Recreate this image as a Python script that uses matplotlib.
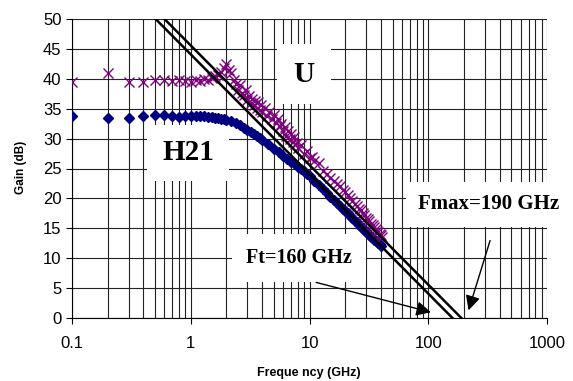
import numpy as np
import matplotlib
matplotlib.use("Agg")
import matplotlib.pyplot as plt

freq_h21 = [0.1, 0.2, 0.3, 0.4, 0.5, 0.6, 0.7, 0.8, 0.9, 1.0,
            1.1, 1.2, 1.3, 1.4, 1.5, 1.6, 1.7, 1.8, 1.9, 2.0,
            2.2, 2.4, 2.6, 2.8, 3.0, 3.2, 3.4, 3.6, 3.8, 4.0,
            4.5, 5.0, 5.5, 6.0, 6.5, 7.0, 7.5, 8.0, 8.5, 9.0, 9.5, 10,
            11, 12, 13, 14, 15, 16, 17, 18, 19, 20, 21, 22, 23, 24, 25,
            26, 27, 28, 29, 30, 31, 32, 33, 34, 35, 36, 37, 38, 39, 40]
gain_h21 = [33.7, 33.4, 33.4, 33.7, 33.9, 33.9, 33.8, 33.6, 33.7, 33.7,
            33.8, 33.7, 33.7, 33.6, 33.6, 33.5, 33.4, 33.3, 33.2, 33.1,
            32.9, 32.6, 32.2, 31.8, 31.4, 31.1, 30.8, 30.5, 30.1, 29.8,
            29.1, 28.3, 27.7, 27.1, 26.6, 26.1, 25.7, 25.3, 24.9, 24.5, 24.1, 23.7,
            22.9, 22.2, 21.5, 20.9, 20.3, 19.8, 19.3, 18.8, 18.3, 17.9, 17.5, 17.1, 16.7, 16.3, 16.0,
            15.6, 15.3, 15.0, 14.7, 14.4, 14.2, 13.9, 13.6, 13.4, 13.1, 12.9, 12.7, 12.5, 12.3, 12.1]

freq_u = [0.1, 0.2, 0.3, 0.4, 0.5, 0.6, 0.7, 0.8, 0.9, 1.0,
          1.1, 1.2, 1.3, 1.4, 1.5, 1.6, 1.7, 1.8, 1.9,
          2.0, 2.1, 2.2, 2.3, 2.4, 2.5, 2.6, 2.7, 2.8, 2.9,
          3.0, 3.1, 3.2, 3.3, 3.4, 3.5, 3.6, 3.7, 3.8, 3.9,
          4.0, 4.2, 4.4, 4.6, 4.8, 5.0, 5.2, 5.4, 5.6, 5.8,
          6.0, 6.2, 6.4, 6.6, 6.8, 7.0, 7.2, 7.4, 7.6, 7.8,
          8.0, 8.5, 9.0, 9.5, 10, 10.5, 11, 12, 13, 14, 15,
          16, 17, 18, 19, 20, 21, 22, 23, 24, 25, 26, 27, 28,
          29, 30, 31, 32, 33, 34, 35, 36, 37, 38, 39, 40, 41]
gain_u = [39.4, 41.0, 39.4, 39.4, 39.8, 39.8, 39.7, 39.8, 39.6, 39.5,
          39.8, 39.6, 40.0, 39.8, 40.1, 40.4, 40.6, 41.2, 41.8,
          42.4, 41.5, 40.9, 39.8, 39.2, 38.2, 38.9, 37.6, 37.3, 38.1,
          36.4, 37.1, 36.0, 36.7, 35.6, 36.3, 35.2, 36.1, 34.8, 35.7,
          34.4, 35.1, 33.8, 34.5, 33.2, 34.0, 32.6, 33.3, 32.1, 32.4,
          31.3, 32.0, 30.5, 31.2, 30.0, 30.7, 29.4, 30.2, 29.1, 29.3,
          28.4, 29.0, 27.4, 27.9, 26.8, 26.9, 26.2, 25.9, 24.5, 24.1, 23.4,
          22.9, 22.4, 22.0, 21.4, 21.0, 20.6, 20.0, 19.6, 19.1, 18.7, 18.3, 18.0, 17.5,
          17.2, 16.8, 16.5, 16.2, 15.8, 15.5, 15.3, 14.9, 14.6, 14.3, 14.0, 13.8, 13.5]

FT = 160
FMAX = 190

plt.rcParams['font.family'] = ['Liberation Sans', 'DejaVu Sans']

fig = plt.figure(figsize=(5.73, 3.81), dpi=100)
ax = fig.add_axes([72/573, 1-318/381, 475/573, 299/381])

ax.set_xscale('log')
ax.set_xlim(0.1, 1000)
ax.set_ylim(0, 50)
ax.set_yticks(np.arange(0, 51, 5))
ax.set_xticks([0.1, 1, 10, 100, 1000])
ax.set_xticklabels(['0.1', '1', '10', '100', '1000'])
ax.xaxis.set_minor_formatter(matplotlib.ticker.NullFormatter())
ax.tick_params(axis='both', which='major', labelsize=12, length=4, direction='out')
ax.tick_params(axis='x', which='major', pad=9)
ax.tick_params(axis='x', which='minor', length=0)
ax.grid(True, which='both', axis='x', color='#222222', lw=0.8)
ax.grid(True, which='major', axis='y', color='#222222', lw=0.8)
ax.set_axisbelow(True)
for s in ['top', 'right']:
    ax.spines[s].set_visible(False)

ax.plot(freq_h21, gain_h21, ls='none', marker='D', ms=5, color='#000080', zorder=5)
ax.plot(freq_u, gain_u, ls='none', marker='x', ms=6.5, mew=1, color='#800080', zorder=5)

# -20 dB/decade extrapolation lines
for F in (FT, FMAX):
    ax.plot([F / 10**2.5, F], [50, 0], color='black', lw=1.8, zorder=6)

lbl = dict(fontweight='bold', family='Liberation Serif', ha='center',
           va='center', zorder=4, clip_on=False, transform=fig.transFigure)
ax.text(304/573, 1-74/381, 'U', fontsize=21,
        bbox=dict(boxstyle='square,pad=0.55', fc='white', ec='none'), **lbl)
ax.text(188/573, 1-153/381, 'H21', fontsize=21,
        bbox=dict(boxstyle='square,pad=0.5', fc='white', ec='none'), **lbl)
ax.text(299/573, 1-258/381, 'Ft=160 GHz', fontsize=14.5,
        bbox=dict(boxstyle='square,pad=0.7', fc='white', ec='none'), **lbl)
ax.text(489/573, 1-204/381, 'Fmax=190 GHz', fontsize=15,
        bbox=dict(boxstyle='square,pad=0.6', fc='white', ec='none'), **lbl)

arrow = dict(arrowstyle='-|>', color='black', lw=1, mutation_scale=22)
ax.annotate('', xy=(111, 0.84), xytext=(10.8, 6.07), arrowprops=arrow, zorder=7)
ax.annotate('', xy=(215, 0.84), xytext=(337, 13.4), arrowprops=arrow, zorder=7)

fig.text(21/573, 1-167/381, 'Gain (dB)', rotation=90, fontsize=8.5,
         fontweight='bold', ha='center', va='center')
fig.text(309/573, 0.004, 'Freque ncy (GHz)', fontsize=9, fontweight='bold',
         ha='center', va='bottom')

fig.savefig('out.png', dpi=100)
